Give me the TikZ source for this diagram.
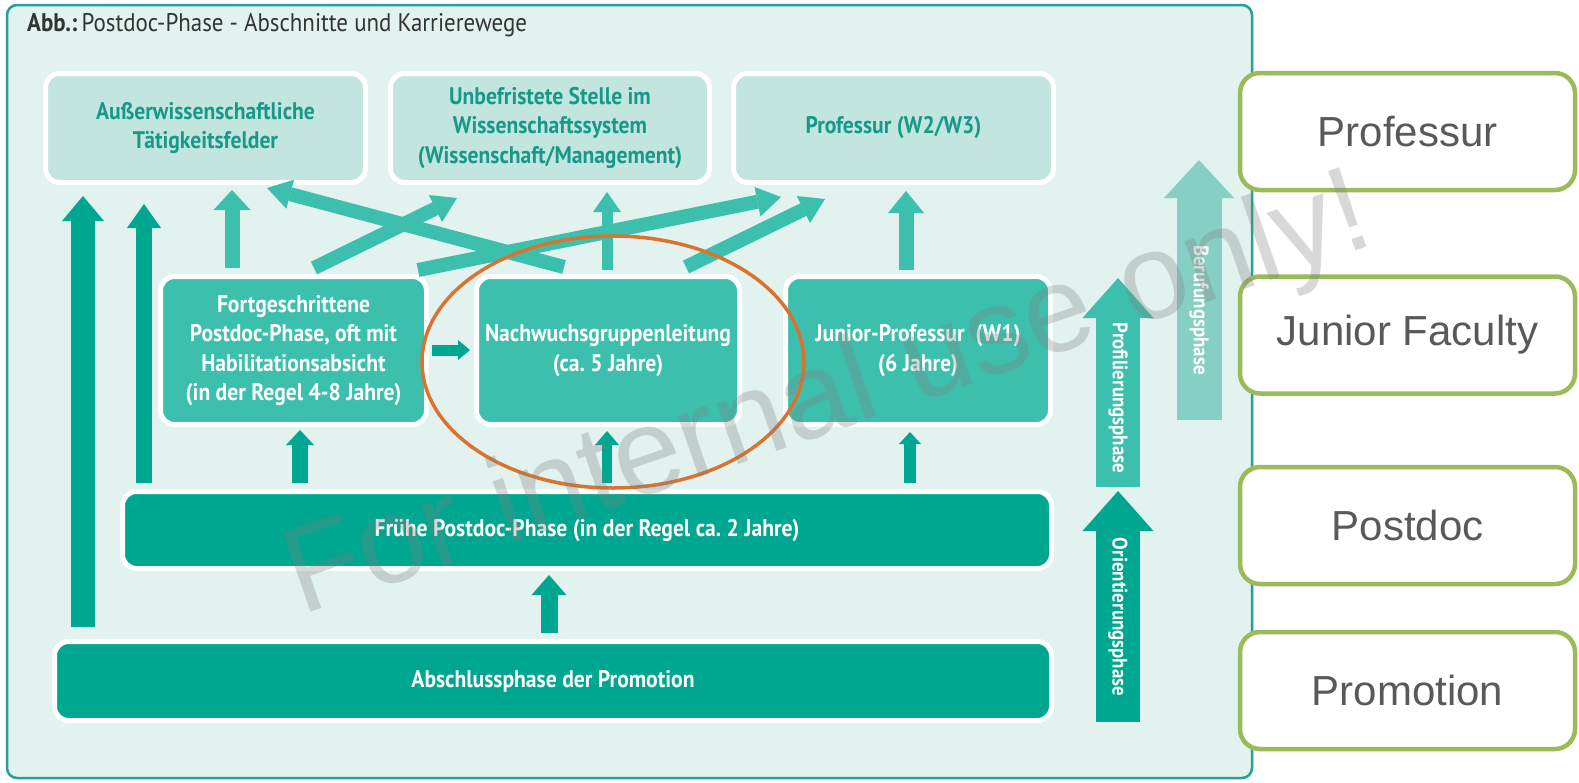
\documentclass[tikz,border=0pt]{standalone}
\usepackage{fontspec}
\setmainfont{Liberation Sans}
\newfontfamily\cond[FakeStretch=0.9]{PT Sans}
\usetikzlibrary{arrows.meta,shapes.geometric}
\frenchspacing
\definecolor{panelbg}{HTML}{E1F2EF}
\definecolor{panelline}{HTML}{26A091}
\definecolor{lightbox}{HTML}{C3E5DF}
\definecolor{lighttext}{HTML}{17998A}
\definecolor{medium}{HTML}{3DBFAD}
\definecolor{dark}{HTML}{00A790}
\definecolor{beruf}{HTML}{86CFC4}
\definecolor{greenline}{HTML}{9BBB59}
\definecolor{orangeline}{HTML}{D9732F}
\definecolor{greytext}{HTML}{595959}
\definecolor{titletext}{HTML}{333333}
\tikzset{
  boxbase/.style={rectangle, rounded corners=14pt, draw=white, line width=5pt, align=center, inner sep=0pt,
    font=\cond\bfseries\fontsize{24}{29.5}\selectfont},
  lbox/.style={boxbase, fill=lightbox, text=lighttext},
  mbox/.style={boxbase, fill=medium, text=white},
  dbox/.style={boxbase, fill=dark, text=white},
  rbox/.style={rectangle, rounded corners=20pt, draw=greenline, line width=4.5pt, fill=white, text=greytext,
    minimum width=335pt, minimum height=117pt, font=\fontsize{42}{48}\selectfont},
  barrow/.style n args={4}{draw=#1, line width=#2, -{Triangle[width=#3, length=#4, line width=0pt]}},
  phasetext/.style={rotate=-90, text=white, font=\cond\bfseries\fontsize{21}{24}\selectfont}
}
\begin{document}
\begin{tikzpicture}[x=1pt,y=-1pt]
\useasboundingbox (0,0) rectangle (1579,782);
\fill[white] (0,0) rectangle (1579,782);
% panel
\draw[fill=panelbg, draw=panelline, line width=2.5pt, rounded corners=10pt] (7,5) rectangle (1252,778);
\node[anchor=base west, text=titletext, inner sep=0pt, font=\cond\fontsize{25.5}{30}\selectfont] (title) at (27,31)
  {{\bfseries Abb.:}\,Postdoc-Phase - Abschnitte und Karrierewege};
% row 1
\node[lbox, minimum width=320pt, minimum height=109pt] (aus) at (205.5,128) {Außerwissenschaftliche\\Tätigkeitsfelder};
\node[lbox, minimum width=319pt, minimum height=109pt] (unb) at (550,128) {Unbefristete Stelle im\\Wissenschaftssystem\\(Wissenschaft/Management)};
\node[lbox, minimum width=320pt, minimum height=109pt] (prof) at (893.5,128) {Professur (W2/W3)};
% row 2
\node[mbox, minimum width=266pt, minimum height=148pt] (fort) at (293.5,350.5) {Fortgeschrittene\\Postdoc-Phase, oft mit\\Habilitationsabsicht\\(in der Regel 4-8 Jahre)};
\node[mbox, minimum width=263pt, minimum height=148pt] (nach) at (608,350.5) {Nachwuchsgruppenleitung\\(ca. 5 Jahre)};
\node[mbox, minimum width=265pt, minimum height=148pt] (jun) at (918,350.5) {Junior-Professur\ \ (W1)\\(6 Jahre)};
% row 3, 4
\node[dbox, minimum width=929pt, minimum height=77pt] (frueh) at (587,530) {Frühe Postdoc-Phase (in der Regel ca. 2 Jahre)};
\node[dbox, minimum width=997pt, minimum height=79pt] (abs) at (553,681) {Abschlussphase der Promotion};
% coordinates
\coordinate (l1a) at (83,627);  \coordinate (l1b) at (83,196);
\coordinate (l2a) at (144,483); \coordinate (l2b) at (144,204);
\coordinate (fua) at (232,268); \coordinate (fub) at (232,190);
\coordinate (nua) at (607,270); \coordinate (nub) at (607,192);
\coordinate (jua) at (906,270); \coordinate (jub) at (906,191);
\coordinate (x1a) at (564,267); \coordinate (x1b) at (267,188);
\coordinate (x2a) at (314,268); \coordinate (x2b) at (457,198);
\coordinate (x3a) at (418,270); \coordinate (x3b) at (781,197);
\coordinate (x4a) at (686,267); \coordinate (x4b) at (825,199);
\coordinate (d1a) at (300,483); \coordinate (d1b) at (300,430);
\coordinate (d2a) at (607,483); \coordinate (d2b) at (607,431);
\coordinate (d3a) at (910,483); \coordinate (d3b) at (910,432);
\coordinate (pa) at (549,633);  \coordinate (pb) at (549,575);
\coordinate (ha) at (432,350);  \coordinate (hb) at (470,350);
% left tall arrows
\draw[barrow={dark}{24pt}{42pt}{25pt}] (l1a) -- (l1b);
\draw[barrow={dark}{16pt}{34pt}{24pt}] (l2a) -- (l2b);
% row2 -> row1
\draw[barrow={medium}{15pt}{37pt}{20pt}] (fua) -- (fub);
\draw[barrow={medium}{11pt}{28pt}{20pt}] (nua) -- (nub);
\draw[barrow={medium}{15pt}{36pt}{22pt}] (jua) -- (jub);
\draw[barrow={medium}{14pt}{30pt}{24pt}] (x1a) -- (x1b);
\draw[barrow={medium}{14pt}{30pt}{24pt}] (x2a) -- (x2b);
\draw[barrow={medium}{14pt}{30pt}{24pt}] (x3a) -- (x3b);
\draw[barrow={medium}{14pt}{30pt}{24pt}] (x4a) -- (x4b);
% row3 -> row2
\draw[barrow={dark}{16pt}{28pt}{15pt}] (d1a) -- (d1b);
\draw[barrow={dark}{10pt}{24pt}{14pt}] (d2a) -- (d2b);
\draw[barrow={dark}{12pt}{22pt}{12pt}] (d3a) -- (d3b);
% row4 -> row3
\draw[barrow={dark}{17pt}{35pt}{20pt}] (pa) -- (pb);
% fort -> nach
\draw[barrow={dark}{11pt}{20pt}{12pt}] (ha) -- (hb);
% phase arrows
\coordinate (oa) at (1118,722); \coordinate (ob) at (1118,491);
\coordinate (fa) at (1118,487); \coordinate (fb) at (1118,278);
\coordinate (ba) at (1199,420); \coordinate (bb) at (1199,160);
\draw[barrow={dark}{44pt}{71pt}{40pt}] (oa) -- (ob);
\draw[barrow={medium}{44pt}{71pt}{40pt}] (fa) -- (fb);
\draw[barrow={beruf}{45pt}{70pt}{38pt}] (ba) -- (bb);
\node[phasetext] (ot) at (1118,617) {Orientierungsphase};
\node[phasetext] (pt) at (1118,398) {Profilierungsphase};
\node[phasetext] (bt) at (1199,310) {Berufungsphase};
% right boxes
\node[rbox] (rprof) at (1407.5,131.5) {Professur};
\node[rbox] (rjun) at (1407.5,335) {Junior Faculty};
\node[rbox] (rpost) at (1407.5,525.5) {Postdoc};
\node[rbox] (rprom) at (1407.5,690.5) {Promotion};
% orange ellipse
\node[ellipse, draw=orangeline, line width=3.5pt, minimum width=382pt, minimum height=252pt, inner sep=0pt] (circ) at (613,362) {};
% watermark
\node[rotate=19.1, anchor=base west, inner sep=0pt, text=black!50, text opacity=0.3, font=\fontsize{122}{122}\selectfont] (wm) at (301,616) {For internal use only!};
\end{tikzpicture}
\end{document}
